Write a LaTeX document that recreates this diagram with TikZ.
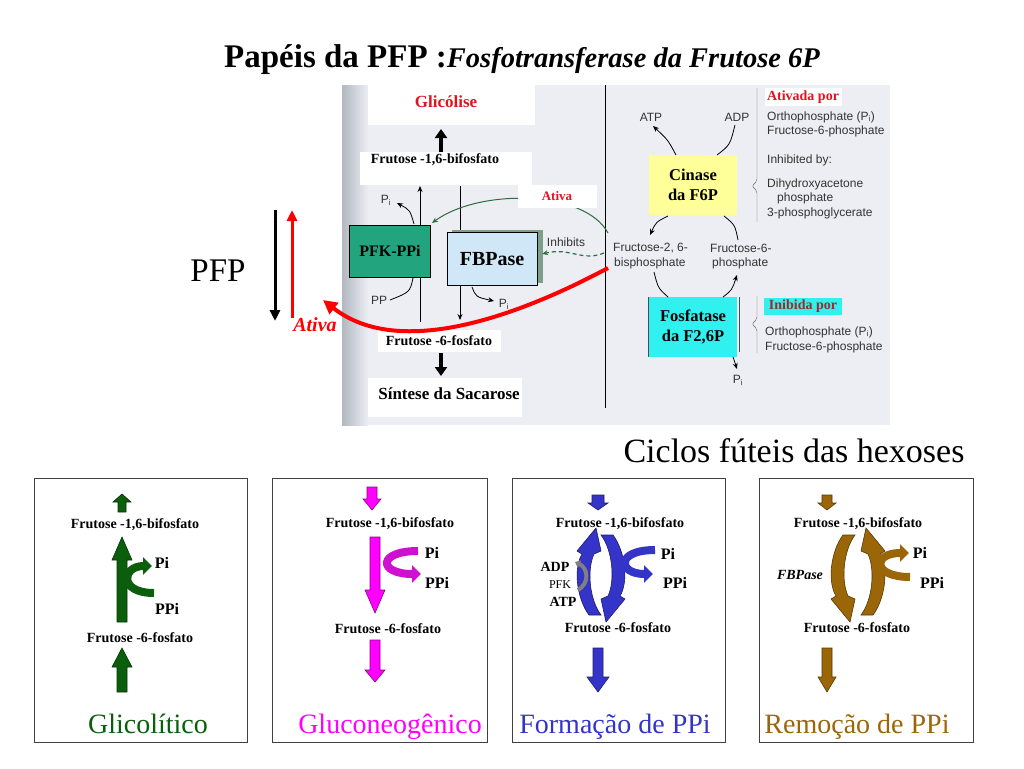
\documentclass[tikz,border=0pt]{standalone}
\usepackage{fontspec}
\setmainfont{Liberation Serif}
\newfontfamily\bookfont{Liberation Sans}
\usetikzlibrary{arrows.meta}

\definecolor{glyc}{HTML}{0B5E0B}
\definecolor{gneo}{HTML}{FF00FF}
\definecolor{gneodk}{HTML}{D010D0}
\definecolor{ppiform}{HTML}{3434C8}
\definecolor{ppirem}{HTML}{9A6608}
\definecolor{pfkteal}{HTML}{22A57F}
\definecolor{fbpblue}{HTML}{CFE7F7}
\definecolor{fbpshadow}{HTML}{7FA088}
\definecolor{photo}{HTML}{ECEEF4}
\definecolor{photoedge}{HTML}{B2B7C0}
\definecolor{inkgray}{HTML}{333333}
\definecolor{arrgreen}{HTML}{2F6E3A}
\definecolor{kinyellow}{HTML}{FFFF99}
\definecolor{phcyan}{HTML}{30F0F0}
\definecolor{inibred}{HTML}{A0282D}
\definecolor{glicred}{HTML}{E0141E}

\newcommand{\fsz}[1]{\fontsize{#1}{#1}\selectfont}
% colour, x, tail, head base, tip, half shaft, half head
\newcommand{\blockar}[7]{\filldraw[fill=#1,draw=#1!55!black,line width=0.6pt]
  ({#2-#6},#3) -- ({#2-#6},#4) -- ({#2-#7},#4) -- (#2,#5) -- ({#2+#7},#4)
  -- ({#2+#6},#4) -- ({#2+#6},#3) -- cycle;}
% crescent pointing up, bulging left, around (0,0)
\newcommand{\crescent}[1]{\filldraw[fill=#1,draw=#1!55!black,line width=0.6pt]
  (0,40) -- (-12,40) .. controls (-24,24) and (-28,-6) .. (-19,-21) -- (-24,-24)
  -- (-5,-47) -- (0,-24) -- (-7,-21) .. controls (-14,-6) and (-12,24) .. (0,40) -- cycle;}

\begin{document}
\begin{tikzpicture}[x=1pt,y=-1pt,
  wbox/.style={fill=white,inner sep=0pt},
  book/.style={font={\bookfont\fsz{12}},text=inkgray,inner sep=0pt},
  bt/.style={font={\bfseries\fsz{14}},inner sep=0pt},
  pilab/.style={font={\bfseries\fsz{16}},inner sep=0pt},
  ptitle/.style={font={\fsz{28}},inner sep=0pt,anchor=base},
  panel/.style={draw=black!75,line width=0.8pt},
  wire/.style={draw=black,line width=0.8pt},
  arr/.style={-{Stealth[length=6pt,width=5pt]}},
  uturn/.style={line width=8pt,-{Triangle[length=9pt,width=17pt]}},
]
\useasboundingbox (0,0) rectangle (1024,768);

\node[anchor=base west,inner sep=0pt] (title) at (224,67) {\bfseries\fsz{33}Papéis da PFP :\itshape\fsz{28.5}Fosfotransferase da Frutose 6P};

% photo
\fill[photo] (342,85) rectangle (890,425);
\shade[left color=photoedge,right color=photo] (342,85) rectangle (368,425);
\draw[line width=1pt] (605,85) -- (605,408);

\path[draw,wire,arr] (420,322) -- (420,186);
\path[draw,wire,arr] (460,186) -- (460,320);

\node[wbox,minimum width=167pt,minimum height=40pt] (glicbox) at (451,105) {};
\node[font={\bfseries\fsz{17}},text=glicred,inner sep=0pt] (glic) at (446,102) {Glicólise};
\node[wbox,minimum width=172pt,minimum height=33pt] (f16box) at (446,168) {};
\node[bt,anchor=base] (f16) at (435,163) {Frutose -1,6-bifosfato};
\node[wbox,minimum width=123pt,minimum height=22pt,font={\bfseries\fsz{14}}] (f6p) at (439,341) {Frutose -6-fosfato};
\node[wbox,minimum width=154pt,minimum height=39pt] (sacbox) at (445,397) {};
\node[font={\bfseries\fsz{17}},inner sep=0pt] (sac) at (449,394) {Síntese da Sacarose};
\path[draw,line width=4pt,-{Triangle[length=9pt,width=12pt]}] (441,152) -- (441,129);
\path[draw,line width=4pt,-{Triangle[length=9pt,width=12pt]}] (441,353) -- (441,376);

\path[draw,arrgreen,line width=1pt,arr] (608,233) .. controls (585,190) and (480,188) .. (432,223);
\node[wbox,minimum width=79pt,minimum height=23pt,font={\bfseries\fsz{13}},text=glicred] (ativa) at (557,196) {Ativa};

\fill[fbpshadow] (452,230) rectangle (543,283);
\node[draw,fill=pfkteal,minimum width=81pt,minimum height=52pt,font={\bfseries\fsz{16}}] (pfk) at (390,251) {PFK-PPi};
\node[draw,fill=fbpblue,minimum width=90pt,minimum height=53pt,font={\bfseries\fsz{20}}] (fbp) at (492,259) {FBPase};

\node[book] (pi1) at (386,200) {P\textsubscript{i}};
\path[draw,wire,arr] (414,224) .. controls (410,210) .. (397,203);
\node[book] (pp) at (379,300) {PP};
\path[draw,wire] (413,278) .. controls (410,292) .. (390,300);
\node[book] (pi2) at (504,304) {P\textsubscript{i}};
\path[draw,wire,arr] (472,287) .. controls (476,297) .. (494,301);

\node[book] (inh) at (566,242) {Inhibits};
\path[draw,arrgreen,line width=1.2pt,dash pattern=on 4pt off 3pt,arr] (604,253) .. controls (582,262) and (570,247) .. (542,254);

% right half of photo
\node[fill=kinyellow,minimum width=88pt,minimum height=60pt,align=center,font={\bfseries\fontsize{16.5}{20}\selectfont}] (cin) at (693,185) {Cinase\\da F6P};
\node[fill=phcyan,minimum width=88pt,minimum height=60pt,align=center,font={\bfseries\fontsize{16.5}{20}\selectfont}] (fos) at (693,327) {Fosfatase\\da F2,6P};
\draw[line width=1pt,black!70] (648,297) -- (648,357);
\draw[line width=1pt,black!70] (739,297) -- (739,352);

\node[book] (atp) at (651,117) {ATP};
\node[book] (adp) at (737,117) {ADP};
\node[book,anchor=west] (f26a) at (613,248) {Fructose-2, 6-};
\node[book,anchor=west] (f26b) at (614,263) {bisphosphate};
\node[book,anchor=west] (f6a) at (710,248) {Fructose-6-};
\node[book,anchor=west] (f6b) at (712,263) {phosphate};
\node[book] (pi3) at (738,380) {P\textsubscript{i}};

\path[draw,wire,arr] (676,155) .. controls (668,140) .. (653,126);
\path[draw,wire] (735,125) .. controls (730,145) .. (717,155);
\path[draw,wire,arr] (668,216) .. controls (656,222) .. (650,235);
\path[draw,wire] (738,240) .. controls (735,225) .. (724,216);
\path[draw,wire] (654,272) .. controls (658,288) .. (668,297);
\path[draw,wire,arr] (723,297) .. controls (732,290) .. (737,275);
\path[draw,wire,arr] (733,357) -- (737,369);

\path[draw,black!60,rounded corners=2pt] (757,88) -- (757,181) -- (752,186) -- (757,191) -- (757,222);
\path[draw,black!60,rounded corners=2pt] (757,296) -- (757,319) -- (752,324) -- (757,329) -- (757,353);

\node[wbox,minimum width=77pt,minimum height=18pt,font={\bfseries\fsz{14}},text=glicred] (ativp) at (803,97) {Ativada por};
\node[fill=phcyan,inner sep=0pt,minimum width=78pt,minimum height=17pt,font={\bfseries\fsz{14}},text=inibred] (inibp) at (803,306) {Inibida por};
\node[book,anchor=west] (orth1) at (767,117) {Orthophosphate (P\textsubscript{i})};
\node[book,anchor=west] (fru1) at (767,131) {Fructose-6-phosphate};
\node[book,anchor=west] (inhby) at (767,160) {Inhibited by:};
\node[book,anchor=west] (dhap1) at (767,184) {Dihydroxyacetone};
\node[book,anchor=west] (dhap2) at (777,198) {phosphate};
\node[book,anchor=west] (pga) at (767,213) {3-phosphoglycerate};
\node[book,anchor=west] (orth2) at (765,332) {Orthophosphate (P\textsubscript{i})};
\node[book,anchor=west] (fru2) at (765,347) {Fructose-6-phosphate};

% red activation curve
\path[draw,red,line width=4pt,-{Triangle[length=14pt,width=14pt]}] (608,268) .. controls (520,315) and (400,360) .. (323,300);

% PFP side
\node[font={\fsz{33}},inner sep=0pt] (pfp) at (218,271) {PFP};
\path[draw,line width=3pt,-{Triangle[length=11pt,width=10pt]}] (275,210) -- (275,321);
\path[draw,red,line width=3pt,-{Triangle[length=11pt,width=10pt]}] (292,318) -- (292,210);
\node[font={\bfseries\itshape\fsz{20}},text=red,inner sep=0pt] (ativaL) at (315,325) {Ativa};

\node[font={\fsz{34}},inner sep=0pt,anchor=base] (ciclos) at (794,462) {Ciclos fúteis das hexoses};

% panels
\draw[panel] (34,478) rectangle (247,742);
\draw[panel] (272,478) rectangle (487,742);
\draw[panel] (512,478) rectangle (725,742);
\draw[panel] (759,478) rectangle (973,742);

% glicolitico
\blockar{glyc}{122}{512}{502}{494}{4}{9}
\node[bt] (g16) at (135,525) {Frutose -1,6-bifosfato};
\blockar{glyc}{122}{622}{560}{537}{5}{10}
\path[draw,glyc,uturn] (154,593) .. controls (118,593) and (122,566) .. (152,566);
\node[pilab] (gpi) at (162,563) {Pi};
\node[pilab] (gppi) at (167,609) {PPi};
\node[bt] (g6) at (140,638) {Frutose -6-fosfato};
\blockar{glyc}{122}{692}{667}{648}{5}{10}
\node[ptitle,text=glyc] (gtit) at (148,733) {Glicolítico};

% gluconeogenico
\blockar{gneo}{372}{487}{499}{510}{5}{9}
\node[bt] (n16) at (390,524) {Frutose -1,6-bifosfato};
\blockar{gneo}{375}{537}{590}{613}{5}{10}
\path[draw,gneodk,uturn] (418,551) .. controls (377,551) and (378,574) .. (421,574);
\node[pilab] (npi) at (432,553) {Pi};
\node[pilab] (nppi) at (437,583) {PPi};
\node[bt] (n6) at (388,629) {Frutose -6-fosfato};
\blockar{gneo}{375}{640}{670}{682}{5}{10}
\node[ptitle,text=gneo] (ntit) at (390,733) {Gluconeogênico};

% formacao de PPi
\blockar{ppiform}{598}{495}{503}{510}{6}{10}
\begin{scope}[shift={(601,575)}] \crescent{ppiform} \end{scope}
\begin{scope}[shift={(601,575)},rotate=180] \crescent{ppiform} \end{scope}
\node[bt] (f16c) at (620,524) {Frutose -1,6-bifosfato};
\path[draw,ppiform,uturn] (655,550) .. controls (615,550) and (618,574) .. (653,574);
\node[pilab] (fpi) at (668,554) {Pi};
\node[pilab] (fppi) at (675,583) {PPi};
\path[draw,gray,line width=4pt,-{Triangle[length=5pt,width=8pt]}] (578,590) .. controls (590,583) and (588,568) .. (575,562);
\node[font={\bfseries\fsz{14}},inner sep=0pt] (adp2) at (555,567) {ADP};
\node[font={\fsz{12}},inner sep=0pt] (pfk2) at (560,585) {PFK};
\node[font={\bfseries\fsz{14}},inner sep=0pt] (atp2) at (563,602) {ATP};
\node[bt] (f6c) at (618,628) {Frutose -6-fosfato};
\blockar{ppiform}{598}{648}{677}{692}{5}{11}
\node[ptitle,text=ppiform] (ftit) at (615,733) {Formação de PPi};

% remocao de PPi
\blockar{ppirem}{827}{495}{503}{510}{5}{9}
\begin{scope}[shift={(855,575)},yscale=-1] \crescent{ppirem} \end{scope}
\begin{scope}[shift={(861,575)},xscale=-1] \crescent{ppirem} \end{scope}
\node[bt] (r16) at (858,524) {Frutose -1,6-bifosfato};
\path[draw,ppirem,uturn] (910,577) .. controls (872,577) and (872,553) .. (909,553);
\node[pilab] (rpi) at (920,553) {Pi};
\node[pilab] (rppi) at (932,583) {PPi};
\node[font={\bfseries\itshape\fsz{14}},inner sep=0pt] (fbpi) at (800,575) {FBPase};
\node[bt] (r6) at (857,628) {Frutose -6-fosfato};
\blockar{ppirem}{827}{648}{677}{692}{5}{9}
\node[ptitle,text=ppirem] (rtit) at (857,733) {Remoção de PPi};
\end{tikzpicture}
\end{document}
